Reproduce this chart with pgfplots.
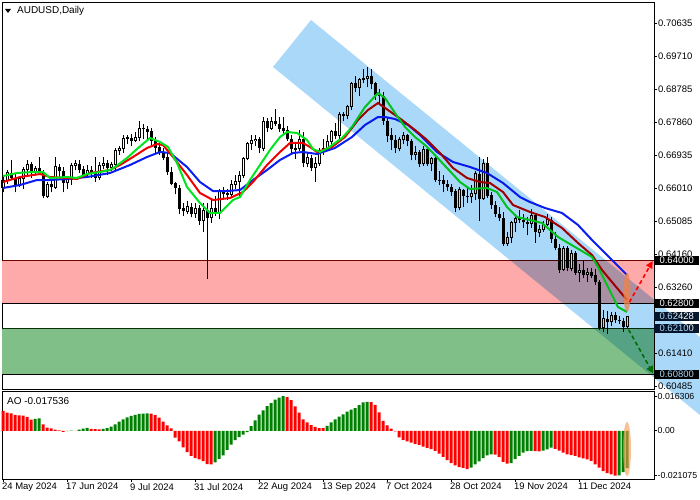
\documentclass[border=0pt]{standalone}
\usepackage{fontspec}
\setmainfont{Liberation Sans}
\usepackage{pgfplots}
\usepackage{pgfplotstable}
\pgfplotsset{compat=1.18}
\usetikzlibrary{arrows.meta}

\definecolor{chan}{RGB}{170,216,248}
\definecolor{zred}{RGB}{255,170,170}
\definecolor{zgreen}{RGB}{128,192,136}
\definecolor{maGreen}{RGB}{0,230,30}
\definecolor{maRed}{RGB}{240,0,0}
\definecolor{maBlue}{RGB}{10,30,240}
\definecolor{aoGreen}{RGB}{0,128,0}
\definecolor{aoRed}{RGB}{255,0,0}
\definecolor{navybox}{RGB}{8,24,44}

% daily candles, bar index from 24 May 2024
\pgfplotstableread{
i o h l c
0 0.6605 0.6632 0.6590 0.6623
1 0.6623 0.6652 0.6615 0.6645
2 0.6645 0.6682 0.6625 0.6630
3 0.6630 0.6641 0.6590 0.6612
4 0.6612 0.6636 0.6605 0.6628
5 0.6628 0.6660 0.6600 0.6653
6 0.6653 0.6680 0.6640 0.6668
7 0.6668 0.6675 0.6630 0.6650
8 0.6650 0.6665 0.6638 0.6657
9 0.6657 0.6690 0.6645 0.6646
10 0.6646 0.6652 0.6575 0.6580
11 0.6580 0.6620 0.6574 0.6613
12 0.6613 0.6630 0.6590 0.6605
13 0.6605 0.6690 0.6600 0.6662
14 0.6662 0.6670 0.6630 0.6650
15 0.6650 0.6660 0.6590 0.6617
16 0.6617 0.6632 0.6600 0.6626
17 0.6626 0.6672 0.6610 0.6665
18 0.6665 0.6680 0.6652 0.6670
19 0.6670 0.6682 0.6645 0.6655
20 0.6655 0.6665 0.6632 0.6640
21 0.6640 0.6667 0.6630 0.6652
22 0.6652 0.6665 0.6630 0.6645
23 0.6645 0.6690 0.6620 0.6632
24 0.6632 0.6675 0.6625 0.6665
25 0.6665 0.6690 0.6655 0.6672
26 0.6672 0.6680 0.6640 0.6660
27 0.6660 0.6675 0.6650 0.6668
28 0.6668 0.6715 0.6650 0.6707
29 0.6707 0.6720 0.6695 0.6712
30 0.6712 0.6750 0.6700 0.6742
31 0.6742 0.6752 0.6725 0.6743
32 0.6743 0.6755 0.6720 0.6735
33 0.6735 0.6758 0.6730 0.6745
34 0.6745 0.6790 0.6735 0.6770
35 0.6770 0.6782 0.6740 0.6768
36 0.6768 0.6775 0.6735 0.6760
37 0.6760 0.6770 0.6720 0.6735
38 0.6735 0.6745 0.6700 0.6716
39 0.6716 0.6730 0.6695 0.6703
40 0.6703 0.6715 0.6680 0.6688
41 0.6688 0.6700 0.6640 0.6647
42 0.6647 0.6660 0.6610 0.6615
43 0.6615 0.6620 0.6585 0.6602
44 0.6602 0.6610 0.6530 0.6545
45 0.6545 0.6560 0.6525 0.6538
46 0.6538 0.6565 0.6530 0.6550
47 0.6550 0.6560 0.6520 0.6530
48 0.6530 0.6560 0.6518 0.6545
49 0.6545 0.6555 0.6500 0.6512
50 0.6512 0.6560 0.6480 0.6540
51 0.6540 0.6560 0.6348 0.6520
52 0.6520 0.6575 0.6505 0.6545
53 0.6545 0.6580 0.6525 0.6535
54 0.6535 0.6600 0.6515 0.6593
55 0.6593 0.6605 0.6570 0.6587
56 0.6587 0.6600 0.6570 0.6583
57 0.6583 0.6625 0.6575 0.6612
58 0.6612 0.6640 0.6600 0.6622
59 0.6622 0.6650 0.6580 0.6637
60 0.6637 0.6690 0.6630 0.6684
61 0.6684 0.6730 0.6680 0.6727
62 0.6727 0.6750 0.6710 0.6736
63 0.6736 0.6750 0.6720 0.6739
64 0.6739 0.6745 0.6700 0.6714
65 0.6714 0.6800 0.6705 0.6788
66 0.6788 0.6798 0.6760 0.6770
67 0.6770 0.6800 0.6765 0.6790
68 0.6790 0.6824 0.6775 0.6781
69 0.6781 0.6800 0.6760 0.6769
70 0.6769 0.6800 0.6755 0.6764
71 0.6764 0.6775 0.6735 0.6740
72 0.6740 0.6750 0.6700 0.6711
73 0.6711 0.6725 0.6685 0.6712
74 0.6712 0.6765 0.6705 0.6738
75 0.6738 0.6760 0.6660 0.6672
76 0.6672 0.6700 0.6660 0.6687
77 0.6687 0.6695 0.6650 0.6659
78 0.6659 0.6690 0.6620 0.6672
79 0.6672 0.6715 0.6665 0.6707
80 0.6707 0.6740 0.6695 0.6712
81 0.6712 0.6750 0.6705 0.6734
82 0.6734 0.6765 0.6720 0.6760
83 0.6760 0.6785 0.6740 0.6750
84 0.6750 0.6815 0.6740 0.6808
85 0.6808 0.6815 0.6790 0.6805
86 0.6805 0.6835 0.6795 0.6830
87 0.6830 0.6900 0.6820 0.6896
88 0.6896 0.6915 0.6870 0.6883
89 0.6883 0.6910 0.6860 0.6906
90 0.6906 0.6935 0.6895 0.6908
91 0.6908 0.6942 0.6885 0.6914
92 0.6914 0.6935 0.6880 0.6895
93 0.6895 0.6900 0.6850 0.6863
94 0.6863 0.6880 0.6840 0.6860
95 0.6860 0.6870 0.6780 0.6790
96 0.6790 0.6800 0.6730 0.6750
97 0.6750 0.6770 0.6710 0.6737
98 0.6737 0.6750 0.6700 0.6714
99 0.6714 0.6745 0.6705 0.6737
100 0.6737 0.6760 0.6725 0.6750
101 0.6750 0.6755 0.6720 0.6734
102 0.6734 0.6740 0.6680 0.6695
103 0.6695 0.6720 0.6680 0.6703
104 0.6703 0.6710 0.6660 0.6670
105 0.6670 0.6720 0.6665 0.6710
106 0.6710 0.6715 0.6665 0.6670
107 0.6670 0.6690 0.6650 0.6685
108 0.6685 0.6690 0.6620 0.6625
109 0.6625 0.6650 0.6610 0.6624
110 0.6624 0.6640 0.6590 0.6614
111 0.6614 0.6625 0.6595 0.6605
112 0.6605 0.6615 0.6580 0.6593
113 0.6593 0.6600 0.6535 0.6547
114 0.6547 0.6605 0.6540 0.6597
115 0.6597 0.6600 0.6550 0.6580
116 0.6580 0.6605 0.6560 0.6578
117 0.6578 0.6610 0.6560 0.6588
118 0.6588 0.6650 0.6570 0.6642
119 0.6642 0.6690 0.6510 0.6573
120 0.6573 0.6685 0.6570 0.6671
121 0.6671 0.6688 0.6575 0.6582
122 0.6582 0.6590 0.6545 0.6555
123 0.6555 0.6565 0.6520 0.6530
124 0.6530 0.6550 0.6510 0.6519
125 0.6519 0.6535 0.6440 0.6447
126 0.6447 0.6480 0.6440 0.6465
127 0.6465 0.6510 0.6450 0.6505
128 0.6505 0.6530 0.6480 0.6518
129 0.6518 0.6540 0.6505 0.6513
130 0.6513 0.6530 0.6490 0.6508
131 0.6508 0.6520 0.6470 0.6503
132 0.6503 0.6545 0.6490 0.6525
133 0.6525 0.6530 0.6450 0.6479
134 0.6479 0.6500 0.6465 0.6486
135 0.6486 0.6510 0.6480 0.6500
136 0.6500 0.6530 0.6495 0.6513
137 0.6513 0.6520 0.6450 0.6460
138 0.6460 0.6480 0.6430 0.6435
139 0.6435 0.6445 0.6365 0.6375
140 0.6375 0.6440 0.6370 0.6433
141 0.6433 0.6440 0.6370 0.6378
142 0.6378 0.6430 0.6370 0.6420
143 0.6420 0.6425 0.6360 0.6366
144 0.6366 0.6390 0.6340 0.6372
145 0.6372 0.6400 0.6350 0.6360
146 0.6360 0.6380 0.6340 0.6366
147 0.6366 0.6380 0.6350 0.6358
148 0.6358 0.6375 0.6330 0.6340
149 0.6340 0.6345 0.6205 0.6212
150 0.6212 0.6260 0.6200 0.6236
151 0.6236 0.6258 0.6195 0.6228
152 0.6228 0.6255 0.6215 0.6247
153 0.6247 0.6256 0.6225 0.6233
154 0.6233 0.6245 0.6222 0.6230
155 0.6230 0.6238 0.6200 0.6215
156 0.6215 0.6245 0.6212 0.6243
}\candles

\pgfplotstableread{
i p
0 0.66025
4.25 0.66109
8.5 0.66249
11.75 0.66249
16 0.66277
21 0.66333
26.75 0.66445
31.75 0.66669
36 0.66893
39.25 0.67033
41.75 0.67005
46 0.66613
49.25 0.66193
52.5 0.65941
56 0.65941
59.25 0.65969
62.5 0.66249
66 0.66529
69.25 0.66809
72.5 0.67005
75 0.67033
78.5 0.66977
83 0.67145
87.25 0.67453
90.5 0.67789
93.75 0.68012
95.5 0.68012
98 0.67956
101.25 0.67789
104.25 0.67510
108.5 0.67033
112.5 0.66753
116.75 0.66613
121 0.66445
125 0.66165
129.25 0.65773
131.75 0.65633
135.5 0.65465
139.75 0.65326
143.75 0.64990
147.25 0.64570
150.5 0.64206
153 0.63926
156 0.63590
}\tabBlue

\pgfplotstableread{
i p
0 0.66193
4.25 0.66333
9.25 0.66417
11.75 0.66333
16 0.66305
18.5 0.66277
21.75 0.66445
26.75 0.66529
29.25 0.66669
32.5 0.66893
36 0.67145
38.5 0.67257
40 0.67229
42.5 0.66893
46 0.66389
49.25 0.65885
52.5 0.65689
56.75 0.65745
60 0.65913
62.5 0.66193
66 0.66669
69.25 0.67033
71.75 0.67285
75 0.67285
76.75 0.67173
78.5 0.67033
82.25 0.67173
85.5 0.67453
88.75 0.67929
91.25 0.68208
93.75 0.68404
96.25 0.68208
99.75 0.67929
103 0.67649
106 0.67369
109.25 0.67005
112.5 0.66585
116 0.66305
119.25 0.66193
121.75 0.66165
125 0.65913
127.5 0.65549
131.75 0.65354
135.5 0.65214
139.75 0.64906
143.75 0.64486
147.25 0.64150
149.75 0.63730
152.25 0.63394
156 0.62891
}\tabRed

\pgfplotstableread{
i p
0 0.66361
3.5 0.66445
7.5 0.66473
10 0.66473
11.75 0.66305
16 0.66333
18.5 0.66305
21 0.66417
24.25 0.66473
26.75 0.66529
28 0.66613
31 0.66865
33.5 0.67117
36.75 0.67425
39.25 0.67313
41.25 0.67173
43.5 0.66725
46 0.66053
49.25 0.65605
51.75 0.65326
54.25 0.65326
57.5 0.65689
59.25 0.65773
61.75 0.66249
64.25 0.66669
66.75 0.67089
69.25 0.67453
71 0.67593
73.5 0.67565
76 0.67369
77.5 0.67117
79.25 0.67033
81.25 0.67145
84.75 0.67425
87.25 0.67733
90.5 0.68292
93.75 0.68684
95.5 0.68544
98 0.68124
100.5 0.67733
103 0.67453
105.5 0.67229
107.5 0.67005
111 0.66585
114.25 0.66193
116.75 0.65997
121 0.66025
123.5 0.65913
126 0.65493
128.5 0.65214
131.75 0.65130
134.75 0.65046
138.75 0.64654
143 0.64374
147.25 0.64094
148.75 0.63814
151.25 0.63254
153.75 0.62694
156 0.62555
}\tabGreen

% Awesome oscillator, g=1 rising bar, g=0 falling bar
\pgfplotstableread{
i v g
0 0.0094 0
1 0.0085 0
2 0.0082 0
3 0.0075 0
4 0.0072 0
5 0.0071 0
6 0.0065 0
7 0.0052 0
8 0.0056 1
9 0.0058 1
10 0.0030 0
11 0.0015 0
12 0.0011 0
13 0.0006 0
14 0.0002 0
15 -0.0005 0
16 -0.0002 1
17 0.0001 1
18 0.0000 0
19 0.0005 1
20 0.0010 1
21 0.0014 1
22 0.0009 0
23 0.0008 0
24 0.0007 0
25 0.0009 1
26 0.0012 1
27 0.0019 1
28 0.0030 1
29 0.0043 1
30 0.0053 1
31 0.0063 1
32 0.0070 1
33 0.0075 1
34 0.0079 1
35 0.0081 1
36 0.0082 1
37 0.0080 0
38 0.0074 0
39 0.0062 0
40 0.0043 0
41 0.0025 0
42 0.0011 0
43 -0.0032 0
44 -0.0050 0
45 -0.0078 0
46 -0.0100 0
47 -0.0118 0
48 -0.0128 0
49 -0.0134 0
50 -0.0142 0
51 -0.0156 0
52 -0.0158 0
53 -0.0148 1
54 -0.0132 1
55 -0.0115 1
56 -0.0090 1
57 -0.0065 1
58 -0.0044 1
59 -0.0030 1
60 -0.0018 1
61 -0.0006 1
62 0.0022 1
63 0.0049 1
64 0.0076 1
65 0.0096 1
66 0.0116 1
67 0.0130 1
68 0.0146 1
69 0.0156 1
70 0.016306 1
71 0.0158 0
72 0.0144 0
73 0.0114 0
74 0.0085 0
75 0.0054 0
76 0.0039 0
77 0.0027 0
78 0.0018 0
79 0.0013 0
80 0.0012 0
81 0.0023 1
82 0.0039 1
83 0.0054 1
84 0.0066 1
85 0.0077 1
86 0.0090 1
87 0.0099 1
88 0.0106 1
89 0.0120 1
90 0.0133 1
91 0.0136 1
92 0.0134 0
93 0.0121 0
94 0.0086 0
95 0.0047 0
96 0.0025 0
97 0.0010 0
98 -0.0003 0
99 -0.0031 0
100 -0.0042 0
101 -0.0050 0
102 -0.0056 0
103 -0.0061 0
104 -0.0066 0
105 -0.0074 0
106 -0.0080 0
107 -0.0086 0
108 -0.0094 0
109 -0.0107 0
110 -0.0122 0
111 -0.0138 0
112 -0.0152 0
113 -0.0162 0
114 -0.0170 0
115 -0.0174 0
116 -0.0180 0
117 -0.0173 1
118 -0.0158 1
119 -0.0143 1
120 -0.0128 1
121 -0.0115 1
122 -0.0110 1
123 -0.0112 0
124 -0.0124 0
125 -0.0146 0
126 -0.0154 0
127 -0.0152 1
128 -0.0133 1
129 -0.0118 1
130 -0.0102 1
131 -0.0095 1
132 -0.0094 1
133 -0.0095 0
134 -0.0096 0
135 -0.0093 1
136 -0.0087 1
137 -0.0079 1
138 -0.0085 0
139 -0.0093 0
140 -0.0102 0
141 -0.0110 0
142 -0.0114 0
143 -0.0118 0
144 -0.0125 0
145 -0.0129 0
146 -0.0134 0
147 -0.0141 0
148 -0.0157 0
149 -0.0173 0
150 -0.0189 0
151 -0.0198 0
152 -0.0204 0
153 -0.021075 0
154 -0.0209 1
155 -0.0194 1
156 -0.017536 1
}\ao

\pgfplotsset{
  candle/.style={only marks, mark=none, mark size=0pt,
    mark options={draw=none, fill=none}},
}

\begin{document}
\begin{tikzpicture}[font=\fontsize{9.5}{11}\selectfont]
\useasboundingbox (0,0) rectangle (700bp,500bp);

\begin{axis}[
    at={(2bp,111bp)}, anchor=south west, scale only axis,
    width=652bp, height=387bp,
    xmin=-0.25, xmax=162.75, ymin=0.60400, ymax=0.71231,
    clip=false,
    axis line style={line width=0.8bp},
    xtick=\empty,
    scaled y ticks=false,
    ytick={0.60485,0.61410,0.63260,0.64160,0.65085,0.66010,0.66935,0.67860,0.68785,0.69710,0.70635},
    yticklabels={0.60485,0.61410,0.63260,0.64160,0.65085,0.66010,0.66935,0.67860,0.68785,0.69710,0.70635},
    ytick pos=right, yticklabel pos=right,
    tick align=outside, major tick length=3bp,
    tick style={black, line width=0.6bp},
    yticklabel style={anchor=west, inner sep=1bp, xshift=0bp},
    /pgf/number format/assume math mode=true,
  ]
  % support and resistance zones
  \fill[zred] (axis cs:-0.25,0.628) rectangle (axis cs:162.75,0.640);
  \fill[zgreen] (axis cs:-0.25,0.608) rectangle (axis cs:162.75,0.621);
  \draw[line width=1bp, color={rgb,255:red,110;green,0;blue,0}] (axis cs:-0.25,0.640) -- (axis cs:162.75,0.640);
  \draw[line width=1bp, black] (axis cs:-0.25,0.628) -- (axis cs:162.75,0.628);
  \draw[line width=1bp, color={rgb,255:red,10;green,50;blue,10}] (axis cs:-0.25,0.621) -- (axis cs:162.75,0.621);
  \draw[line width=1bp, black] (axis cs:-0.25,0.608) -- (axis cs:162.75,0.608);

  % wicks
  \addplot[candle,
    error bars/.cd, y dir=plus, y explicit, error mark=none,
    error bar style={line width=0.9bp, black}]
    table[x=i, y=l, y error plus expr={\thisrow{h}-\thisrow{l}}] {\candles};
  % falling bodies
  \addplot[candle,
    restrict expr to domain={\thisrow{c}-\thisrow{o}}{-1:-0.000001},
    error bars/.cd, y dir=plus, y explicit, error mark=none,
    error bar style={line width=3bp, black}]
    table[x=i, y expr={\thisrow{c}-0.00007}, y error plus expr={\thisrow{o}-\thisrow{c}+0.00014}] {\candles};
  % rising bodies: outline then white
  \addplot[candle,
    restrict expr to domain={\thisrow{c}-\thisrow{o}}{0:1},
    error bars/.cd, y dir=plus, y explicit, error mark=none,
    error bar style={line width=3bp, black}]
    table[x=i, y expr={\thisrow{o}-0.00014}, y error plus expr={\thisrow{c}-\thisrow{o}+0.00028}] {\candles};
  \addplot[candle,
    restrict expr to domain={\thisrow{c}-\thisrow{o}}{0:1},
    error bars/.cd, y dir=plus, y explicit, error mark=none,
    error bar style={line width=1bp, white}]
    table[x=i, y expr={\thisrow{o}+0.00014}, y error plus expr={max(\thisrow{c}-\thisrow{o}-0.00028,0)}] {\candles};

  % moving averages
  \addplot[maBlue, line width=2bp, mark=none] table[x=i, y=p] {\tabBlue};
  \addplot[maRed, line width=2bp, mark=none] table[x=i, y=p] {\tabRed};
  \addplot[maGreen, line width=2bp, mark=none] table[x=i, y=p] {\tabGreen};

  % price boxes
  \foreach \pr/\lab/\bc in {0.640/0.64000/black, 0.628/0.62800/black, 0.62428/0.62428/navybox, 0.621/0.62100/navybox, 0.608/0.60800/black} {
    \edef\tmp{\noexpand\node[fill=\bc, text=white, anchor=west, inner xsep=1.5bp, inner ysep=1.2bp, minimum width=45bp]
      at (axis cs:162.75,\pr) {\lab};}\tmp
  }

  % descending channel
  \begin{scope}[blend mode=multiply]
    \clip (axis cs:-0.75,0.57) rectangle (axis cs:174.25,0.71287);
    \fill[chan] (axis cs:67.5,0.69412) -- (axis cs:77,0.70727) -- (axis cs:189.25,0.60484) -- (axis cs:179.75,0.59168) -- cycle;
  \end{scope}

  % scenario arrows and highlight
  \fill[color={rgb,255:red,240;green,130;blue,70}, opacity=0.75] (axis cs:156,0.63101) ellipse [x radius=3.5bp, y radius=19.5bp];
  \draw[red, line width=1.6bp, dash pattern=on 4bp off 3bp, -{Triangle[length=7bp,width=7bp]}]
    (axis cs:156.6,0.6283) -- (axis cs:162.4,0.6398);
  \draw[color={rgb,255:red,0;green,110;blue,0}, line width=1.6bp, dash pattern=on 4bp off 3bp, -{Triangle[length=7bp,width=7bp]}]
    (axis cs:156.4,0.6206) -- (axis cs:162.5,0.6084);
\end{axis}

\begin{axis}[
    at={(2bp,21bp)}, anchor=south west, scale only axis,
    width=652bp, height=88bp,
    xmin=-0.25, xmax=162.75, ymin=-0.022608, ymax=0.018668,
    clip=false,
    axis line style={line width=0.8bp},
    xtick={0,16,...,144},
    xticklabels={24 May 2024,17 Jun 2024,9 Jul 2024,31 Jul 2024,22 Aug 2024,13 Sep 2024,7 Oct 2024,28 Oct 2024,19 Nov 2024,11 Dec 2024},
    xtick pos=bottom,
    xticklabel style={anchor=north west, inner sep=0pt, xshift=-1bp, yshift=-1bp, font=\fontsize{9.5}{11}\selectfont},
    scaled y ticks=false,
    ytick={-0.021075,0,0.016306},
    yticklabels={-0.021075,0.00,0.016306},
    ytick pos=right, yticklabel pos=right,
    tick align=outside, major tick length=3bp,
    tick style={black, line width=0.6bp},
    yticklabel style={anchor=west, inner sep=0.5bp, font=\fontsize{8.8}{10}\selectfont},
    /pgf/number format/assume math mode=true,
  ]
  \addplot[ybar, bar width=3bp, bar shift=0pt, fill=aoGreen, draw=none,
    restrict expr to domain={\thisrow{g}}{0.5:1.5}]
    table[x=i, y=v] {\ao};
  \addplot[ybar, bar width=3bp, bar shift=0pt, fill=aoRed, draw=none,
    restrict expr to domain={\thisrow{g}}{-0.5:0.5}]
    table[x=i, y=v] {\ao};
  \fill[color={rgb,255:red,245;green,150;blue,80}, opacity=0.6] (axis cs:156,-0.00854) ellipse [x radius=4bp, y radius=27bp];
\end{axis}

% titles
\fill (5bp,491bp) -- (11bp,491bp) -- (8bp,487bp) -- cycle;
\node[anchor=west, inner sep=0pt, font=\fontsize{10}{12}\selectfont] at (17bp,489bp) {AUDUSD,Daily};
\node[anchor=west, inner sep=0pt, font=\fontsize{10}{12}\selectfont] at (7bp,99bp) {AO -0.017536};
\end{tikzpicture}
\end{document}
